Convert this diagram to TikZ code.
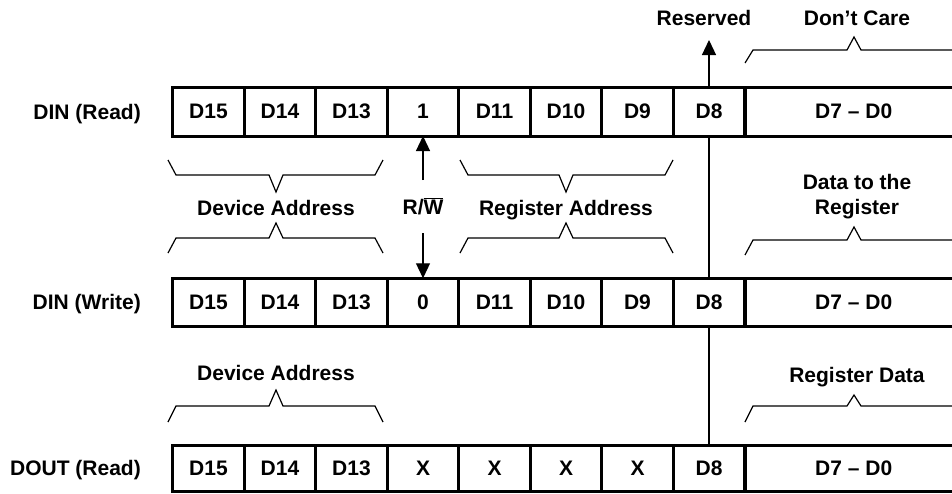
\documentclass[tikz,border=0pt]{standalone}
\usepackage{fontspec}
\setmainfont{Liberation Sans}
\usepackage{tikz}
\usetikzlibrary{arrows.meta}

\tikzset{
    cell/.style={draw, line width=3pt, fill=white, minimum width=71.5pt, inner sep=0pt, outer sep=0pt},
    txt/.style={inner sep=0pt, text height=15pt, text depth=0pt},
    brc/.style={line width=1.2pt},
    arr/.style={line width=1.2pt, -{Triangle[length=15pt,width=14pt]}}
}

\begin{document}
\begin{tikzpicture}[x=1pt, y=-1pt, font=\fontsize{21}{25}\selectfont\bfseries]
    \useasboundingbox (0,0) rectangle (952,493);
    % Draw the three register rows
    \foreach \r/\y/\h/\bits in {a/111.75/48.5/{D15,D14,D13,1,D11,D10,D9,D8},
                                b/302.5/48.5/{D15,D14,D13,0,D11,D10,D9,D8},
                                c/468.5/45.5/{D15,D14,D13,X,X,X,X,D8}} {
        \foreach \lab [count=\i] in \bits {
            \node[cell, minimum height=\h pt] (\r\i) at ({137+71.5*\i}, \y) {\lab};
        }
        \node[cell, minimum height=\h pt, minimum width=217pt] (\r9) at (853.75, \y) {D7 – D0};
    }
    % Row labels
    \node[txt, anchor=east] (dinr) at (141,112) {DIN (Read)};
    \node[txt, anchor=east] (dinw) at (141,302) {DIN (Write)};
    \node[txt, anchor=east] (doutr) at (141,468) {DOUT (Read)};
    % Field labels
    \node[txt] (devr) at (276,208) {Device Address};
    \node[txt] (rw) at (423,207) {\mbox{R/}$\overline{\mbox{W}}$};
    \node[txt] (regr) at (566,208) {Register Address};
    \node[inner sep=0pt, align=center] (datw) at (857,196.5) {Data to the\\Register};
    \node[txt] (devo) at (276,373) {Device Address};
    \node[txt] (rego) at (857,375) {Register Data};
    \node[txt] (rsvd) at (704,18) {Reserved};
    \node[txt] (dcare) at (857,18) {Don’t Care};
    % Draw braces
    \foreach \l/\m/\r/\e/\h/\p in {168/276/383/160/175/192, 460/566/673/160/175/192,
                                    168/276/383/253/238/223, 460/566/673/253/238/223,
                                    168/276/383/422/406/390} {
        \draw[brc] (\l,\e) -- (\l+8,\h) -- (\m-7,\h) -- (\m,\p) -- (\m+7,\h) -- (\r-8,\h) -- (\r,\e);
    }
    \foreach \e/\h/\p in {63/50/37, 255/240/227, 422/406/395} {
        \draw[brc] (745,\e) -- (753,\h) -- (847,\h) -- (854,\p) -- (861,\h) -- (965,\h);
    }
    % Arrows
    \coordinate (rwup) at (423,180);
    \coordinate (rwdn) at (423,233);
    \coordinate (rsv) at (709,40);
    \draw[arr] (rwup) -- (a4.south);
    \draw[arr] (rwdn) -- (b4.north);
    \draw[brc] (c8.north) -- (b8.south);
    \draw[brc] (b8.north) -- (a8.south);
    \draw[arr] (a8.north) -- (rsv);
\end{tikzpicture}
\end{document}
